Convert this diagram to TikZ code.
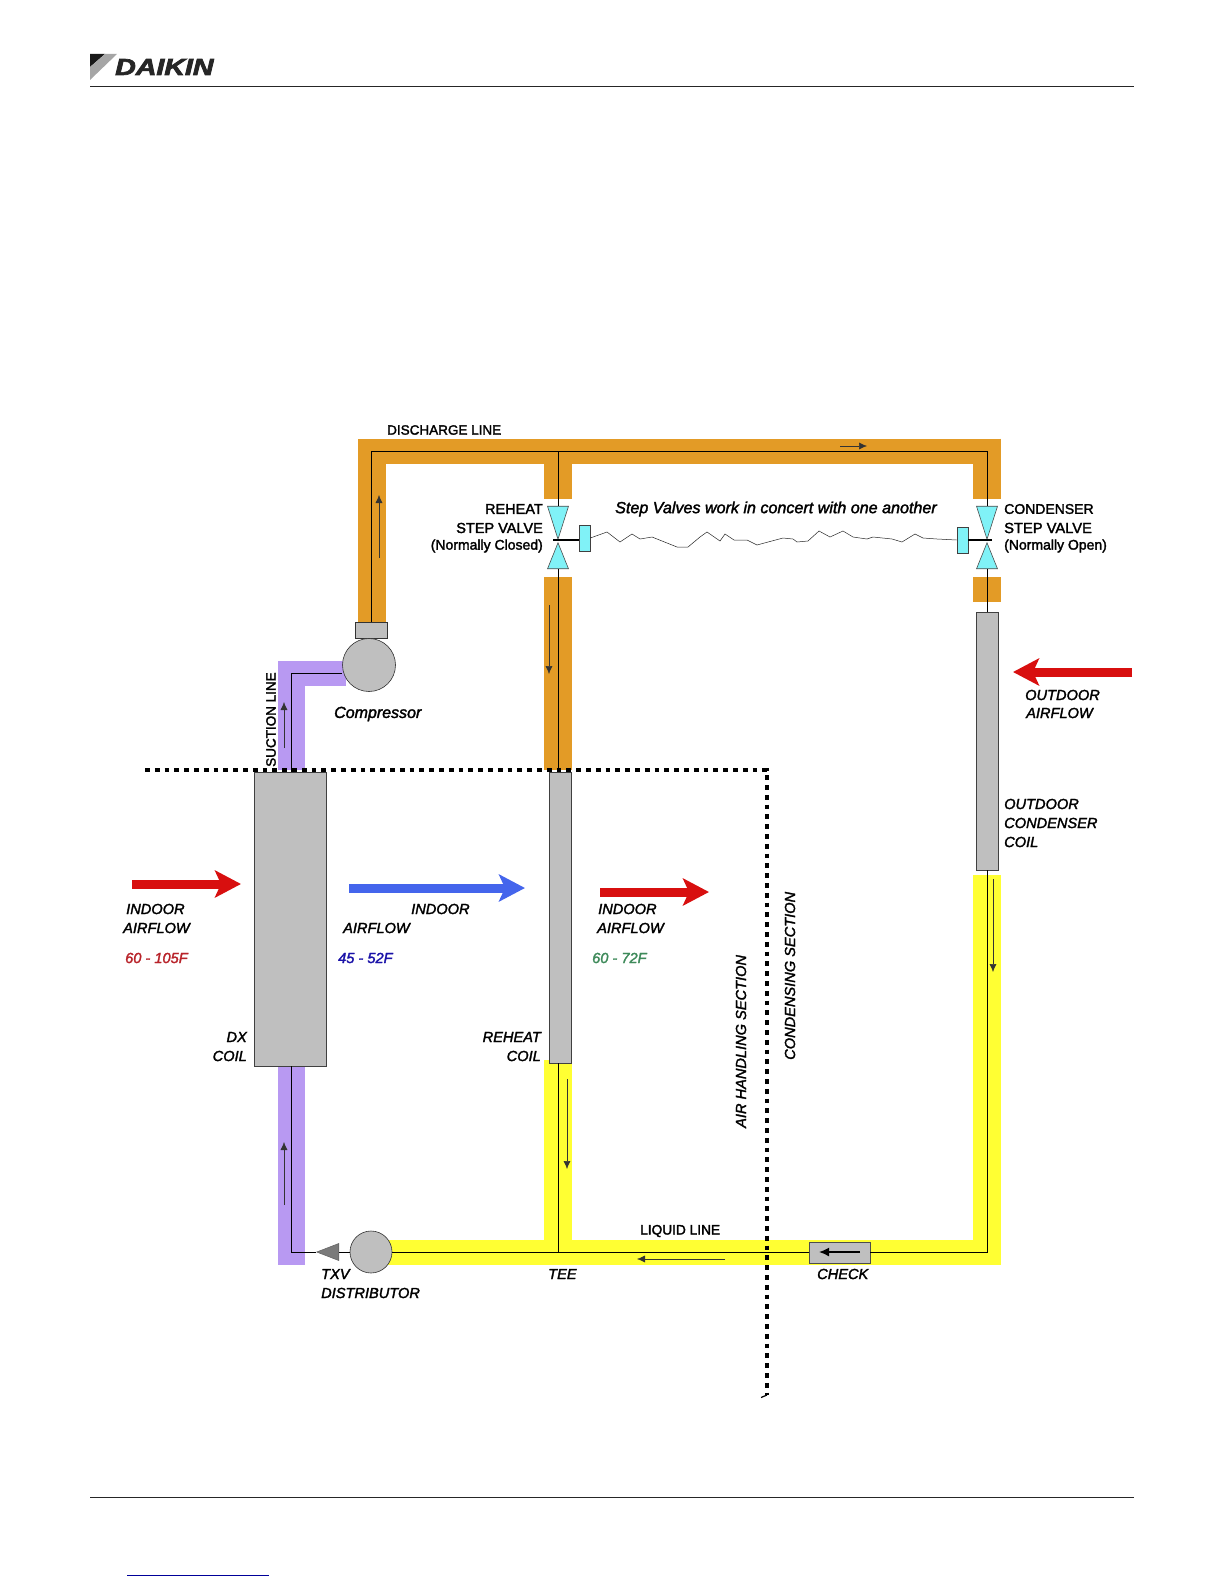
\documentclass[tikz,border=0pt]{standalone}
\usepackage{fontspec}
\setmainfont{Liberation Sans}
\newfontfamily\diagfont{Liberation Sans}[FakeBold=2]
\newfontfamily\logofont{Liberation Sans}[FakeBold=3]
\usetikzlibrary{positioning,arrows.meta,shapes.geometric}
\definecolor{discorange}{HTML}{E39B26}
\definecolor{liqyellow}{HTML}{FFFF33}
\definecolor{suctpurple}{HTML}{B899F2}
\definecolor{coilgray}{HTML}{BFBFBF}
\definecolor{valvecyan}{HTML}{80F2F7}
\definecolor{hotred}{HTML}{D80F0F}
\definecolor{coldblue}{HTML}{4465EC}
\definecolor{temprred}{HTML}{B8232A}
\definecolor{tempblue}{HTML}{1A12A8}
\definecolor{tempgreen}{HTML}{3E8A5A}
\tikzset{
    every node/.style={font=\diagfont\fontsize{14}{16}\selectfont,inner sep=0pt},
    pipeorange/.style={line width=28pt,discorange},
    pipeyellow/.style={line width=28pt,liqyellow},
    pipepurple/.style={line width=27pt,suctpurple},
    refline/.style={line width=1pt,black},
    flow/.style={line width=.5pt,-{Latex[length=8pt,width=7pt]},black!80},
    air/.style={line width=9pt,-{Stealth[length=26pt,width=27pt,inset=6pt]}},
    boundary/.style={line width=4.8pt,dash pattern=on 4.8pt off 5pt,black},
    coil/.style={rectangle,draw=black!75,fill=coilgray,line width=.8pt,minimum width=#1},
    coil/.default=22pt,
    valvedown/.style={isosceles triangle,isosceles triangle stretches,draw=black!70,fill=valvecyan,line width=.6pt,rotate=-90,anchor=apex,minimum height=#1,minimum width=21pt},
    valveup/.style={isosceles triangle,isosceles triangle stretches,draw=black!70,fill=valvecyan,line width=.6pt,rotate=90,anchor=apex,minimum height=#1,minimum width=21pt},
    actuator/.style={rectangle,draw=black!75,fill=valvecyan,line width=.6pt,minimum width=11pt,minimum height=26pt},
    ball/.style={circle,draw=black!80,fill=coilgray,line width=.6pt,minimum size=#1},
    lbl/.style={anchor=west},
    lblr/.style={anchor=east},
    txt/.style={anchor=west,font=\diagfont\itshape\fontsize{14.6}{16}\selectfont},
    txtr/.style={anchor=east,font=\diagfont\itshape\fontsize{14.6}{16}\selectfont},
    rule/.style={line width=1pt,black!85}
}
\begin{document}
\begin{tikzpicture}[x=1pt,y=-1pt]
    \useasboundingbox (0,0) rectangle (1224,1584);
    \fill[black!90] (90,54) -- (105,54) -- (90,67) -- cycle;
    \fill[black!35] (105,54) -- (117,54) -- (90,80) -- (90,67) -- cycle;
    \node[anchor=west,xscale=1.24,font=\logofont\bfseries\itshape\fontsize{23}{24}\selectfont,black!85] (logo) at (115,67) {DAIKIN};
    \coordinate (headl) at (90,87);
    \coordinate (headr) at (1134,87);
    \coordinate (footl) at (90,1497);
    \coordinate (footr) at (1134,1497);
    \coordinate (linkl) at (127,1575);
    \coordinate (linkr) at (269,1575);
    \draw[rule] (headl)--(headr);
    \draw[rule] (footl)--(footr);
    \draw[line width=1pt,blue!60!black] (linkl)--(linkr);

    \coordinate (dischl) at (371,451);
    \coordinate (tee2) at (558,451);
    \coordinate (dischr) at (987,451);
    \coordinate (tee) at (558,1252);
    \coordinate (liqr) at (987,1252);
    \coordinate (suctc) at (291,673);
    \coordinate (txvc) at (291,1252);

    \draw[pipeorange] (372,622)--(372,438.5);
    \draw[pipeorange,line width=25pt] (358,451)--(1001,451);
    \draw[pipeorange] (987,438.5)--(987,499);
    \draw[pipeorange] (tee2)--(558,499);
    \draw[pipeorange] (558,577)--(558,770);
    \draw[pipeorange] (987,577)--(987,602);
    \draw[pipeyellow] (558,1060)--(tee);
    \draw[pipeyellow] (987,875)--(987,1265);
    \draw[pipeyellow,line width=25pt] (371,1252.5)--(1001,1252.5);
    \draw[pipepurple] (291.5,770)--(291.5,661);
    \draw[pipepurple,line width=25pt] (278,673.5)--(346,673.5);
    \draw[pipepurple] (291.5,1060)--(291.5,1265);

    \node[coil=72pt,minimum height=294pt] (dxcoil) at (290,919) {};
    \node[coil,minimum height=291pt] (rhcoil) at (560,917.5) {};
    \node[coil,minimum height=258pt] (oacoil) at (987.5,741) {};
    \node[rectangle,draw=black!80,fill=coilgray,line width=.8pt,minimum width=32pt,minimum height=16pt] (dischbox) at (371,630) {};
    \node[ball=53pt] (comp) at (369,665) {};
    \node[ball=42pt] (dist) at (371,1252) {};
    \node[isosceles triangle,isosceles triangle stretches,draw=black!60,fill=black!52,line width=.6pt,rotate=180,anchor=apex,minimum height=22pt,minimum width=17pt] (txv) at (316,1252) {};
    \node[rectangle,draw=black!70,fill=coilgray,line width=.8pt,minimum width=61pt,minimum height=21pt] (check) at (839.5,1252.5) {};

    \node[valvedown=33pt] (rhup) at (558,540) {};
    \node[valveup=26pt] (rhlow) at (558,542) {};
    \node[valvedown=33pt] (coup) at (987,540) {};
    \node[valveup=26pt] (colow) at (987,542) {};
    \node[actuator] (rhact) at (584.5,538) {};
    \node[actuator] (coact) at (962.5,540) {};
    \coordinate (rhstem) at (553,540);
    \coordinate (costem) at (992,540);

    \draw[refline] (dischbox.north)--(dischl)--(dischr)--(coup.lower side);
    \draw[refline] (tee2)--(rhup.lower side);
    \draw[refline] (rhlow.lower side)--(rhcoil.north -| tee2);
    \draw[refline] (colow.lower side)--(oacoil.north -| dischr);
    \draw[refline] (suctc)--(comp.west |- suctc);
    \draw[refline] (suctc)--(dxcoil.north -| suctc);
    \draw[refline] (dxcoil.south -| suctc)--(txvc)--(txv.apex);
    \draw[refline] (txv.lower side)--(dist.west);
    \draw[refline] (dist.east)--(check.west |- tee);
    \draw[refline] (check.east |- tee)--(liqr)--(oacoil.south -| liqr);
    \draw[refline] (tee)--(rhcoil.south -| tee);
    \draw[line width=2pt] (rhstem)--(rhact.west |- rhstem);
    \draw[line width=2pt] (costem)--(coact.east |- costem);
    \draw[line width=.5pt,black!85] (rhact.east)--(607,532)--(620,542)--(632,534)--(640,539)--(652,537)--(677,547)--(688,547)--(700,537)--(707,532)--(720,541)--(725,534)--(734,540)--(747,540)--(757,545)--(783,538)--(793,539)--(797,542)--(808,541)--(819,531)--(830,537)--(843,531)--(853,537)--(867,539)--(873,537)--(892,539)--(902,542)--(915,534)--(923,538)--(937,539)--(coact.west);
    \coordinate (cka) at (860,1252);
    \coordinate (ckb) at (819,1252);
    \draw[line width=1.6pt,-{Latex[length=10pt,width=9pt]}] (cka)--(ckb);

    \coordinate (fa1) at (379,558);  \coordinate (fa2) at (379,495);
    \coordinate (fb1) at (840,446);  \coordinate (fb2) at (867,446);
    \coordinate (fc1) at (549,605);  \coordinate (fc2) at (549,674);
    \coordinate (fd1) at (284,748);  \coordinate (fd2) at (284,702);
    \coordinate (fe1) at (993,879);  \coordinate (fe2) at (993,972);
    \coordinate (ff1) at (567,1079); \coordinate (ff2) at (567,1169);
    \coordinate (fg1) at (284,1205); \coordinate (fg2) at (284,1142);
    \coordinate (fh1) at (725,1259); \coordinate (fh2) at (637,1259);
    \draw[flow] (fa1)--(fa2);
    \draw[flow] (fb1)--(fb2);
    \draw[flow] (fc1)--(fc2);
    \draw[flow] (fd1)--(fd2);
    \draw[flow] (fe1)--(fe2);
    \draw[flow] (ff1)--(ff2);
    \draw[flow] (fg1)--(fg2);
    \draw[flow] (fh1)--(fh2);

    \coordinate (bnd1) at (145,770);
    \coordinate (bnd2) at (767,770);
    \coordinate (bnd3) at (767,1395);
    \coordinate (bnd4) at (761,1397.5);
    \draw[boundary] (bnd1)--(bnd2)--(bnd3);
    \draw[line width=1.2pt] (bnd3)--(bnd4);

    \coordinate (aa1) at (132,884);  \coordinate (aa2) at (241,884);
    \coordinate (ab1) at (349,888);  \coordinate (ab2) at (525,888);
    \coordinate (ac1) at (600,892);  \coordinate (ac2) at (709,892);
    \coordinate (ad1) at (1132,672); \coordinate (ad2) at (1013,672);
    \draw[air,hotred] (aa1)--(aa2);
    \draw[air,coldblue] (ab1)--(ab2);
    \draw[air,hotred] (ac1)--(ac2);
    \draw[air,hotred] (ad1)--(ad2);

    \node[lbl,font=\diagfont\fontsize{13.5}{16}\selectfont] (disch) at (387,430) {DISCHARGE LINE};
    \node[lbl,font=\diagfont\fontsize{13.7}{16}\selectfont] (liquid) at (640,1231) {LIQUID LINE};
    \node[lblr,font=\diagfont\fontsize{14.5}{16}\selectfont] (rh1) at (543,509) {REHEAT};
    \node[lblr,font=\diagfont\fontsize{14.5}{16}\selectfont] (rh2) at (543,528) {STEP VALVE};
    \node[lblr] (rh3) at (543,546) {(Normally Closed)};
    \node[lbl] (co1) at (1004,509) {CONDENSER};
    \node[lbl,font=\diagfont\fontsize{14.7}{16}\selectfont] (co2) at (1004,528) {STEP VALVE};
    \node[lbl] (co3) at (1004,546) {(Normally Open)};
    \node[txt,font=\diagfont\itshape\fontsize{16.1}{18}\selectfont] (concert) at (615,509) {Step Valves work in concert with one another};
    \node[txt,font=\diagfont\itshape\fontsize{16}{18}\selectfont] (compname) at (334,714) {Compressor};
    \node[rotate=90,anchor=west,font=\diagfont\fontsize{13.5}{16}\selectfont] (suction) at (271,767) {SUCTION LINE};
    \node[txt] (out1) at (1025,695) {OUTDOOR};
    \node[txt] (out2) at (1026,713) {AIRFLOW};
    \node[txt] (oc1) at (1004,804) {OUTDOOR};
    \node[txt] (oc2) at (1004,823) {CONDENSER};
    \node[txt] (oc3) at (1004,842) {COIL};
    \node[txt] (ina1) at (126,909) {INDOOR};
    \node[txt] (ina2) at (123,928) {AIRFLOW};
    \node[txt,temprred] (tempa) at (125,958) {60 - 105F};
    \node[txt] (inb1) at (411,909) {INDOOR};
    \node[txt] (inb2) at (343,928) {AIRFLOW};
    \node[txt,tempblue] (tempb) at (338,958) {45 - 52F};
    \node[txt] (inc1) at (598,909) {INDOOR};
    \node[txt] (inc2) at (597,928) {AIRFLOW};
    \node[txt,tempgreen] (tempc) at (592,958) {60 - 72F};
    \node[txtr] (dx1) at (247,1037) {DX};
    \node[txtr] (dx2) at (247,1056) {COIL};
    \node[txtr] (rc1) at (541,1037) {REHEAT};
    \node[txtr] (rc2) at (541,1056) {COIL};
    \node[txt,rotate=90] (airsec) at (741,1128) {AIR HANDLING SECTION};
    \node[txt,rotate=90] (condsec) at (790,1060) {CONDENSING SECTION};
    \node[txt] (txvname) at (321,1274) {TXV};
    \node[txt] (distname) at (321,1293) {DISTRIBUTOR};
    \node[txt] (teename) at (548,1274) {TEE};
    \node[txt] (checkname) at (817,1274) {CHECK};
\end{tikzpicture}
\end{document}
